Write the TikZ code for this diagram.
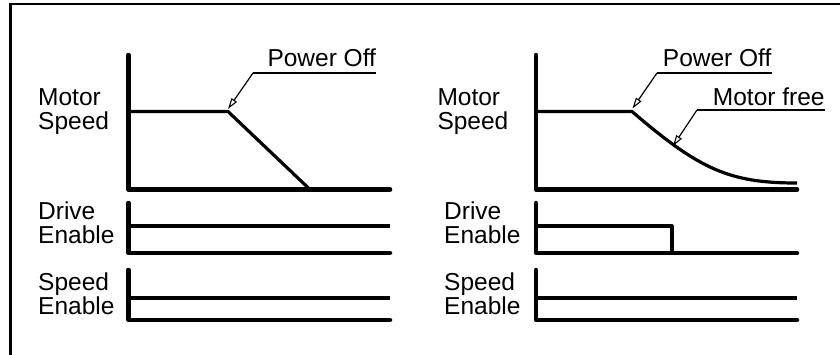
\documentclass[tikz,border=0pt]{standalone}
\usepackage{fontspec}
\setmainfont{Liberation Sans}
\usetikzlibrary{arrows.meta}
\begin{document}
\begin{tikzpicture}[x=1pt,y=-1pt,
  axis/.style={line width=4.5pt,line cap=round,line join=round},
  signal/.style={line width=3.2pt,line join=round},
  leader/.style={line width=1.2pt,-{Triangle[open,length=11pt,width=6.5pt,line width=1.1pt]}},
  uline/.style={line width=1.2pt},
  lbl/.style={inner sep=0pt,anchor=base west,align=left,font=\fontsize{24.5}{23.8}\selectfont},
  tag/.style={inner sep=0pt,anchor=base west,font=\fontsize{24.5}{24}\selectfont}]
\useasboundingbox (0,0) rectangle (840,354);
\clip (0,0) rectangle (840,354);
\draw[line width=2.6pt] (10.3,360) -- (10.3,4) -- (850,4);
% left: motor speed
\node[lbl] (lspeed) at (38,129) {Motor\\Speed};
\draw[axis] (128.5,55) -- (128.5,189.5) -- (390,189.5);
\draw[signal] (128.5,111.5) -- (228,111.5) -- (310,189.5);
\coordinate (lcut) at (228,109);
\coordinate (lpoffu) at (253,73);
\node[tag] (lpoff) at (267.3,66.7) {Power Off};
\draw[uline] (lpoffu) -- (lpoffu -| lpoff.east);
\draw[leader] (lpoffu) -- (lcut);
% left: drive enable
\node[lbl] (ldrive) at (38,243) {Drive\\Enable};
\draw[axis] (128.5,203) -- (128.5,253) -- (390,253);
\draw[signal] (128.5,226) -- (390,226);
% left: speed enable
\node[lbl] (lsen) at (38,314) {Speed\\Enable};
\draw[axis] (128.5,270) -- (128.5,320) -- (390,320);
\draw[signal] (128.5,298) -- (390,298);
% right: motor speed
\node[lbl] (rspeed) at (437.3,129) {Motor\\Speed};
\draw[axis] (536,55) -- (536,189.5) -- (797,189.5);
\draw[signal] (536,111.5) -- (632,111.5) .. controls (700,170) and (730,183) .. (797,183);
\coordinate (rcut) at (632.5,108.5);
\coordinate (rpoffu) at (657,73);
\node[tag] (rpoff) at (662.7,66.7) {Power Off};
\draw[uline] (rpoffu) -- (rpoffu -| rpoff.east);
\draw[leader] (rpoffu) -- (rcut);
\coordinate (rfree) at (673,146);
\coordinate (rfreeu) at (697,110);
\node[tag] (rmf) at (712.7,105) {Motor free};
\draw[uline] (rfreeu) -- (rfreeu -| rmf.east);
\draw[leader] (rfreeu) -- (rfree);
% right: drive enable
\node[lbl] (rdrive) at (444,243) {Drive\\Enable};
\draw[axis] (536,203) -- (536,253) -- (797,253);
\draw[signal] (536,226) -- (672,226) -- (672,253);
% right: speed enable
\node[lbl] (rsen) at (444,314) {Speed\\Enable};
\draw[axis] (536,270) -- (536,320) -- (797,320);
\draw[signal] (536,298) -- (797,298);
\end{tikzpicture}
\end{document}
